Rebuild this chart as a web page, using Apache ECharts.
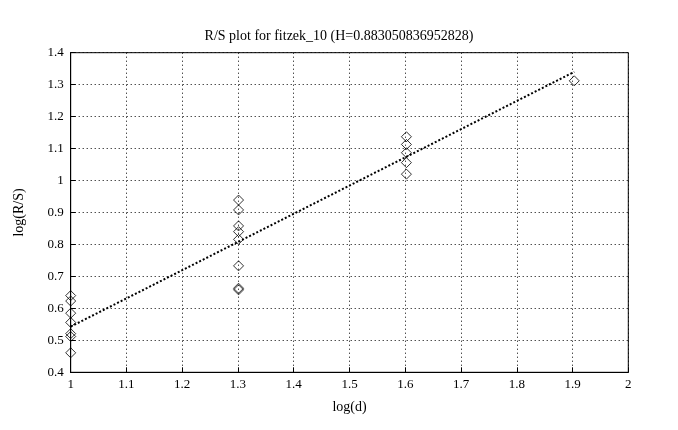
<!DOCTYPE html>
<html>
<head>
<meta charset="utf-8">
<script src="https://cdn.jsdelivr.net/npm/echarts@6/dist/echarts.min.js"></script>
<style>html,body{margin:0;padding:0;background:#fff;}#c{width:678px;height:430px;}</style>
</head>
<body>
<div id="c"></div>
<script>
var titleText = 'R/S plot for fitzek_10 (H=0.883050836952828)';
var xName = 'log(d)';
var yName = 'log(R/S)';
var logD = [1, 1.30103, 1.60206, 1.90309];
var rsAt1 = [0.640, 0.623, 0.585, 0.556, 0.521, 0.512, 0.461];
var rsAt2 = [0.939, 0.908, 0.858, 0.840, 0.816, 0.733, 0.663, 0.658];
var rsAt3 = [1.137, 1.113, 1.087, 1.056, 1.020];
var rsAt4 = [1.312];
var fitX = [1, 1.90309];
var fitY = [0.543, 1.340];

var groups = [rsAt1, rsAt2, rsAt3, rsAt4];
var pts = [];
groups.forEach(function (g, i) { g.forEach(function (v) { pts.push([logD[i], v]); }); });
var fit = fitX.map(function (x, i) { return [x, fitY[i]]; });

var font = '"Liberation Serif","DejaVu Serif",serif';
var chart = echarts.init(document.getElementById('c'), null, {renderer: 'canvas'});
chart.setOption({
  backgroundColor: '#fff',
  animation: false,
  title: {
    text: titleText, left: 'center', top: 24,
    textStyle: {fontFamily: font, fontSize: 14, fontWeight: 'normal', color: '#000'}
  },
  grid: {left: 70.7, right: 49.7, top: 52.7, bottom: 57.7, show: true, borderColor: '#000', borderWidth: 1},
  xAxis: {
    type: 'value', min: 1, max: 2, interval: 0.1,
    name: xName, nameLocation: 'middle', nameGap: 28,
    nameTextStyle: {fontFamily: font, fontSize: 14, color: '#000'},
    axisLine: {show: true, lineStyle: {color: '#000'}},
    axisTick: {show: true, inside: true, length: 5, lineStyle: {color: '#000'}},
    axisLabel: {fontFamily: font, fontSize: 13, color: '#000', margin: 6,
      formatter: function (v) { return String(Math.round(v * 10) / 10); }},
    splitLine: {show: true, lineStyle: {color: '#000', type: [1, 3], width: 1}}
  },
  yAxis: {
    type: 'value', min: 0.4, max: 1.4, interval: 0.1,
    name: yName, nameLocation: 'middle', nameGap: 44, nameRotate: 90,
    nameTextStyle: {fontFamily: font, fontSize: 14, color: '#000'},
    axisLine: {show: true, lineStyle: {color: '#000'}},
    axisTick: {show: true, inside: true, length: 5, lineStyle: {color: '#000'}},
    axisLabel: {fontFamily: font, fontSize: 13, color: '#000', margin: 7,
      formatter: function (v) { return String(Math.round(v * 10) / 10); }},
    splitLine: {show: true, lineStyle: {color: '#000', type: [1, 3], width: 1}}
  },
  series: [
    {
      type: 'line', data: fit, symbol: 'none', silent: true,
      lineStyle: {color: '#000', width: 2, type: [2, 2]}, z: 3
    },
    {
      type: 'scatter', data: pts, symbol: 'diamond', symbolSize: [10, 10],
      itemStyle: {color: 'rgba(255,255,255,0)', borderColor: '#000', borderWidth: 1}, z: 4
    }
  ]
});
</script>
</body>
</html>
